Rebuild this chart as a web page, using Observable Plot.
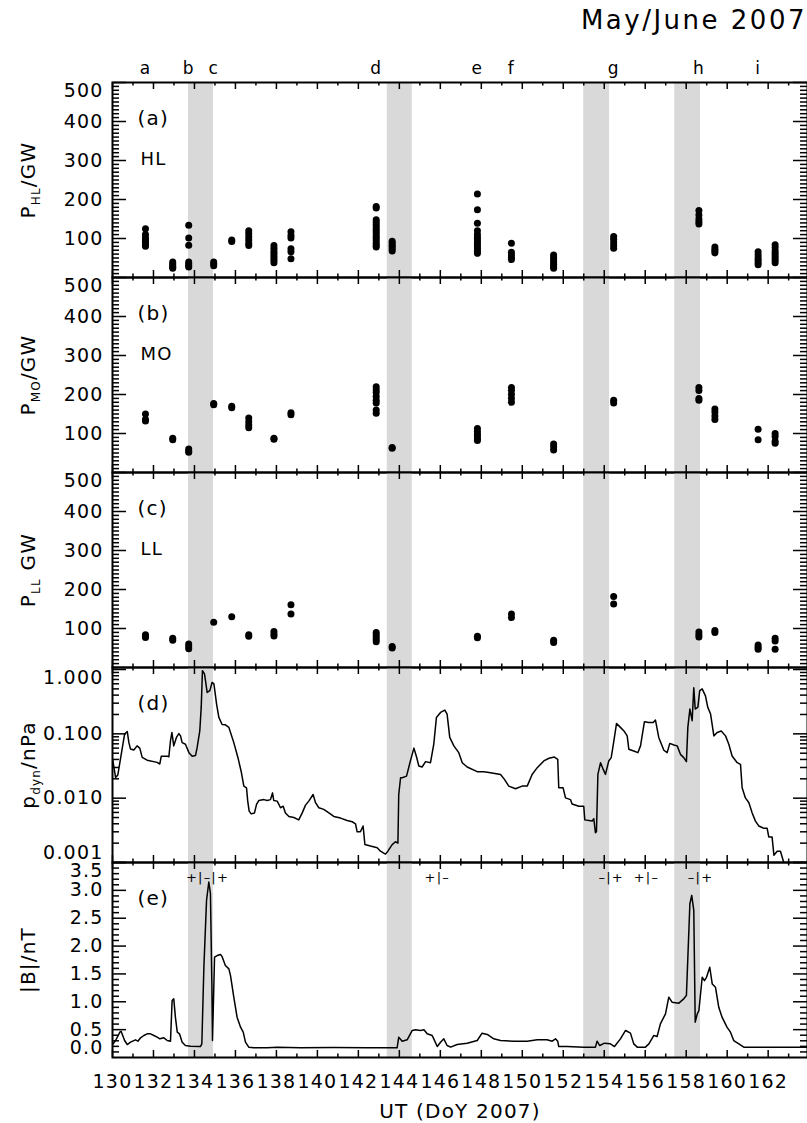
<!DOCTYPE html>
<html><head><meta charset="utf-8">
<script src="https://cdn.jsdelivr.net/npm/d3@7"></script>
<script src="https://cdn.jsdelivr.net/npm/@observablehq/plot@0.6"></script>
<style>
body{margin:0;background:#fff;}
#wrap{position:relative;width:807px;height:1123px;overflow:hidden;font-family:"DejaVu Sans",sans-serif;background:#fff;}
#wrap svg{position:absolute;left:0;}
#title{position:absolute;right:0;top:7px;font-size:26px;line-height:26px;letter-spacing:2.5px;white-space:nowrap;color:#000;}
</style></head><body>
<div id="wrap"><div id="title">May/June 2007</div></div>
<script>
// ---------------- data ----------------
const obsDays = [131.61,132.94,133.72,134.94,135.82,136.65,137.88,138.71,142.87,143.65,147.81,149.47,151.53,154.46,158.62,159.40,161.51,162.34];
const hlPower = [
 [125,110,102,97,93,88,84,80],[40,35,30,27,24],[134,101,83,40,35,30,27],[40,35,30],[96,92],
 [120,112,104,96,88,82],[82,75,68,62,56,50,44,38],[117,108,101,74,66,48],
 [182,178,148,142,136,130,124,118,112,106,100,94,88,82,78],[93,88,83,78,73,68],
 [214,174,139,120,110,103,97,91,85,79,73,67,62],[88,65,58,52,46],[58,52,46,40,34,28,24],
 [105,98,90,82,75],[172,160,150,143,137],[78,72,68,63],[66,58,50,44,38,33],[84,76,68,62,56,50,44,38]
];
const moPower = [
 [150,136,132],[88,84],[60,55,52],[177,174],[170,166],[140,130,122,115],[88,85],[153,148],
 [220,212,205,195,185,178,160,152],[64,62],[113,105,98,92,86,82],[218,210,200,190,180],
 [73,66,58],[185,178],[218,210,190,185],[163,155,145,136],[111,84],[100,92,80,75]
];
const llPower = [
 [84,80,77],[75,70],[60,54,48],[116],[130],[84,80],[92,86,81],[161,137],[90,84,78,72,66],[54,50],
 [80,76],[137,128],[70,64],[182,163],[91,84,78],[95,90],[58,52,47],[75,68,47]
];
const pdyn = [
 [130.02,0.038],[130.15,0.021],[130.26,0.023],[130.59,0.099],[130.72,0.109],[130.80,0.073],[130.88,0.058],
 [131.04,0.056],[131.20,0.065],[131.33,0.060],[131.45,0.043],[131.69,0.039],[132.18,0.036],[132.31,0.034],
 [132.38,0.045],[132.67,0.045],[132.75,0.044],[132.83,0.078],[132.90,0.105],[132.99,0.065],[133.12,0.088],
 [133.24,0.101],[133.32,0.093],[133.40,0.073],[133.56,0.069],[133.73,0.051],[133.89,0.045],[134.05,0.046],
 [134.13,0.061],[134.26,0.111],[134.33,0.26],[134.39,0.96],[134.49,0.855],[134.62,0.44],[134.75,0.47],
 [134.86,0.63],[134.95,0.60],[135.08,0.29],[135.19,0.18],[135.35,0.14],[135.51,0.138],[135.68,0.126],
 [135.76,0.105],[135.92,0.073],[136.12,0.043],[136.28,0.026],[136.41,0.0154],[136.54,0.0145],[136.60,0.009],
 [136.67,0.0063],[136.77,0.0057],[136.93,0.0059],[137.03,0.008],[137.14,0.0092],[137.39,0.0095],[137.55,0.0092],
 [137.71,0.0095],[137.81,0.0121],[137.87,0.0092],[138.04,0.009],[138.20,0.0071],[138.33,0.0075],[138.44,0.0059],
 [138.61,0.0052],[138.85,0.005],[139.09,0.0046],[139.26,0.0059],[139.42,0.0078],[139.58,0.009],[139.79,0.0114],
 [139.91,0.0085],[140.07,0.0071],[140.31,0.0067],[140.56,0.0059],[140.80,0.0052],[141.13,0.0049],[141.45,0.0045],
 [141.70,0.0043],[141.86,0.004],[141.94,0.003],[142.10,0.003],[142.23,0.0037],[142.32,0.0019],[142.59,0.0018],
 [142.92,0.0017],[143.08,0.0015],[143.32,0.00135],[143.44,0.0015],[143.65,0.0019],[143.81,0.0021],[143.93,0.002],
 [143.97,0.0114],[144.06,0.0208],[144.14,0.0208],[144.35,0.022],[144.54,0.038],[144.71,0.060],[144.84,0.0436],
 [144.95,0.0316],[145.11,0.0305],[145.28,0.037],[145.52,0.0356],[145.68,0.069],[145.81,0.18],[146.01,0.215],
 [146.22,0.234],[146.33,0.203],[146.46,0.088],[146.66,0.065],[146.90,0.051],[147.07,0.0356],[147.31,0.0305],
 [147.80,0.0258],[148.12,0.0258],[148.45,0.0249],[148.94,0.0234],[149.13,0.0196],[149.34,0.0154],[149.67,0.014],
 [149.99,0.0154],[150.24,0.0154],[150.48,0.0234],[150.73,0.0298],[151.05,0.0379],[151.30,0.0417],[151.57,0.0436],
 [151.73,0.0402],[151.78,0.0145],[151.99,0.0145],[152.11,0.0101],[152.35,0.0095],[152.43,0.0081],[152.76,0.0075],
 [153.00,0.0075],[153.05,0.0046],[153.41,0.0044],[153.49,0.0048],[153.57,0.0029],[153.62,0.003],[153.69,0.0234],
 [153.82,0.0356],[153.95,0.028],[154.06,0.0234],[154.22,0.0379],[154.34,0.0427],[154.47,0.078],[154.60,0.145],
 [154.79,0.126],[154.96,0.111],[155.12,0.093],[155.20,0.0575],[155.44,0.054],[155.64,0.051],[155.77,0.065],
 [155.96,0.154],[156.18,0.15],[156.39,0.15],[156.50,0.164],[156.66,0.088],[156.91,0.0556],[157.07,0.051],
 [157.20,0.071],[157.40,0.067],[157.56,0.065],[157.72,0.048],[157.88,0.0427],[158.01,0.037],[158.08,0.126],
 [158.18,0.243],[158.29,0.16],[158.37,0.52],[158.44,0.243],[158.57,0.26],[158.66,0.47],[158.78,0.50],
 [158.94,0.39],[159.05,0.26],[159.19,0.203],[159.35,0.093],[159.51,0.105],[159.71,0.111],[159.92,0.093],
 [160.08,0.069],[160.24,0.0453],[160.49,0.0356],[160.65,0.0336],[160.73,0.0145],[160.89,0.0101],[161.06,0.0085],
 [161.22,0.0059],[161.38,0.0044],[161.54,0.0037],[161.79,0.0034],[161.95,0.0034],[162.03,0.0025],[162.19,0.0025],
 [162.28,0.0013],[162.44,0.0015],[162.60,0.0015],[162.77,0.00098],[162.90,0.0008]
];
const bField = [
 [130.03,0.245],[130.15,0.305],[130.36,0.455],[130.42,0.47],[130.59,0.305],[130.72,0.233],[130.88,0.275],
 [131.12,0.317],[131.24,0.293],[131.37,0.353],[131.53,0.395],[131.69,0.425],[131.85,0.425],[132.02,0.395],
 [132.18,0.365],[132.31,0.335],[132.51,0.353],[132.67,0.305],[132.83,0.293],[132.91,1.023],[132.99,1.053],
 [133.07,0.724],[133.16,0.455],[133.27,0.425],[133.40,0.275],[133.56,0.215],[133.81,0.203],[134.29,0.197],
 [134.36,0.245],[134.46,1.62],[134.59,2.82],[134.70,3.15],[134.78,2.94],[134.85,1.32],[134.88,0.305],
 [134.98,1.80],[135.11,1.83],[135.27,1.85],[135.35,1.81],[135.51,1.65],[135.68,1.59],[135.76,1.47],
 [135.92,1.083],[136.08,0.724],[136.25,0.545],[136.38,0.455],[136.49,0.275],[136.65,0.186],[136.90,0.174],
 [137.55,0.174],[138.04,0.186],[139.18,0.174],[140.80,0.18],[142.43,0.174],[143.89,0.174],[143.97,0.365],
 [144.14,0.293],[144.38,0.317],[144.63,0.485],[144.79,0.497],[145.03,0.485],[145.20,0.497],[145.36,0.425],
 [145.60,0.395],[145.68,0.335],[145.85,0.197],[146.01,0.275],[146.17,0.335],[146.33,0.215],[146.50,0.186],
 [146.82,0.233],[147.31,0.257],[147.80,0.305],[148.04,0.437],[148.29,0.413],[148.61,0.335],[148.94,0.305],
 [149.59,0.293],[150.24,0.293],[150.73,0.317],[151.21,0.317],[151.46,0.293],[151.62,0.335],[151.73,0.293],
 [151.78,0.197],[152.19,0.197],[153.00,0.186],[153.57,0.186],[153.65,0.293],[153.78,0.215],[154.01,0.257],
 [154.30,0.245],[154.50,0.197],[154.79,0.335],[155.04,0.485],[155.28,0.437],[155.44,0.245],[155.61,0.186],
 [156.01,0.186],[156.18,0.245],[156.42,0.395],[156.58,0.377],[156.74,0.604],[156.99,0.784],[157.15,1.083],
 [157.31,0.993],[157.64,0.975],[157.88,1.053],[158.01,1.113],[158.18,2.76],[158.27,2.91],[158.37,2.64],
 [158.44,0.634],[158.54,0.784],[158.62,0.844],[158.78,1.44],[158.89,1.38],[158.99,1.44],[159.15,1.62],
 [159.27,1.32],[159.43,1.26],[159.59,0.90],[159.75,0.724],[159.99,0.545],[160.16,0.455],[160.32,0.305],
 [160.57,0.245],[160.81,0.186],[161.95,0.186],[163.92,0.186]
];
const bandStart = [133.71,143.41,153.00,157.44];
const bandEnd   = [134.93,144.63,154.26,158.70];
const letterDays  = [131.61,133.72,134.94,142.87,147.81,149.47,154.46,158.62,161.51];
const letterNames = ["a","b","c","d","e","f","g","h","i"];
const sectorDays  = [134.635,145.85,154.34,156.06,158.70];
const sectorText  = ["+|–|+","+|–","–|+","+|–","–|+"];
const xMajor = [130,132,134,136,138,140,142,144,146,148,150,152,154,156,158,160,162];
const xMinor = [131,133,135,137,139,141,143,145,147,149,151,153,155,157,159,161,163];
const powerLabels = [100,200,300,400];
const powerTop = 500;
const pdynLabels = [0.01,0.1];
const pdynTop = 1.0, pdynBottom = 0.001;
const bLabels = [0.5,1.0,1.5,2.0,2.5,3.0];
const bTop = 3.5, bBottom = 0.0;

// ---------------- layout ----------------
const W = 807, ML = 112, MR = 0, FH = 195, FW = W - ML - MR;
const X_DOMAIN = [130, 163.92];
const wrap = document.getElementById("wrap");
const bands = bandStart.map((s,i)=>({s, e: bandEnd[i]}));

function rows(values){ return obsDays.flatMap((d,i)=>values[i].map(v=>({day:d, v}))); }
function pairs(list){ return list.map(([day,v])=>({day, v})); }

const linMinor = d3.range(10, 500, 10).filter(v => v % 100 !== 0);
const linMajor = [100,200,300,400,500];
const logMajor = [0.001,0.01,0.1,1];
const logMinor = [0.001,0.01,0.1].flatMap(d => d3.range(2,10).map(k => k*d));
const bMajor = [0.5,1,1.5,2,2.5,3,3.5];
const bMinor = d3.range(1,35).filter(k => k % 5 !== 0).map(k => k/10);

function frameMarks(yMajor, yMinor){
  const s = {stroke:"black", strokeWidth:1.5};
  return [
    Plot.tickX(xMajor, {x:d=>d, insetTop: FH-7, ...s}),
    Plot.tickX(xMajor, {x:d=>d, insetBottom: FH-7, ...s}),
    Plot.tickX(xMinor, {x:d=>d, insetTop: FH-3.5, ...s}),
    Plot.tickX(xMinor, {x:d=>d, insetBottom: FH-3.5, ...s}),
    Plot.tickY(yMajor, {y:d=>d, insetRight: FW-14, ...s}),
    Plot.tickY(yMajor, {y:d=>d, insetLeft: FW-14, ...s}),
    Plot.tickY(yMinor, {y:d=>d, insetRight: FW-7, ...s}),
    Plot.tickY(yMinor, {y:d=>d, insetLeft: FW-7, ...s}),
    Plot.frame({stroke:"black", strokeWidth:2})
  ];
}
function labelMarks(mid, top, bottom, fmt){
  const o = {frameAnchor:"left", textAnchor:"end", lineAnchor:"middle", dx:-9, fontSize:19, fill:"black", text: d=>fmt(d)};
  const m = [Plot.text(mid, {y:d=>d, ...o})];
  if (top != null) m.push(Plot.text([top], {y:d=>d, ...o, dy:8}));
  if (bottom != null) m.push(Plot.text([bottom], {y:d=>d, ...o, dy:-10}));
  return m;
}
function titleMark(t){
  return Plot.text([t], {frameAnchor:"left", dx:-84, rotate:-90, lineAnchor:"middle", textAnchor:"middle", fontSize:20, fill:"black", text:d=>d});
}
function tagMarks(tag, region){
  const m = [Plot.text([tag], {frameAnchor:"top-left", dx:25, dy:36, textAnchor:"start", lineAnchor:"middle", fontSize:20, fill:"black", text:d=>d})];
  if (region) m.push(Plot.text([region], {frameAnchor:"top-left", dx:28, dy:77, textAnchor:"start", lineAnchor:"middle", fontSize:18, fill:"black", text:d=>d}));
  return m;
}
function bandMark(){ return Plot.rect(bands, {x1:"s", x2:"e", fill:"#d9d9d9"}); }

function subscript(svg, main, sub, rest){
  const full = main + sub + rest;
  const ns = "http://www.w3.org/2000/svg";
  svg.querySelectorAll("text").forEach(t => {
    if (t.textContent === full) {
      t.textContent = "";
      const a = document.createElementNS(ns,"tspan"); a.textContent = main;
      const b = document.createElementNS(ns,"tspan"); b.textContent = sub; b.setAttribute("font-size","12"); b.setAttribute("dy","5");
      const c = document.createElementNS(ns,"tspan"); c.textContent = rest; c.setAttribute("dy","-5");
      t.append(a,b,c);
    }
  });
}

function panel(top, mt, mb, y, marks){
  const svg = Plot.plot({
    width: W, height: mt + FH + mb, marginTop: mt, marginBottom: mb, marginLeft: ML, marginRight: MR,
    x: {domain: X_DOMAIN, axis: null},
    y: {...y, axis: null},
    style: {fontFamily: "DejaVu Sans, sans-serif", fontSize: "19px", letterSpacing: "1.2px", color: "black", background: "transparent", overflow: "visible"},
    marks
  });
  svg.style.position = "absolute"; svg.style.top = top + "px"; svg.style.left = "0px";
  wrap.append(svg);
  return svg;
}
const f0 = d3.format("d"), f3 = d3.format(".3f"), f1 = d3.format(".1f");
const dotOpts = {x:"day", y:"v", r:3.5, fill:"black"};

// (a)
const sa = panel(0, 82, 0, {domain:[0,500]}, [
  bandMark(),
  Plot.dot(rows(hlPower), dotOpts),
  ...frameMarks(linMajor, linMinor),
  ...labelMarks(powerLabels, powerTop, null, f0),
  titleMark("PHL/GW"),
  ...tagMarks("(a)", "HL"),
  Plot.text(letterDays, {x:d=>d, text:(d,i)=>letterNames[i], frameAnchor:"top", dy:-14, lineAnchor:"middle", fontSize:17, fill:"black"})
]);
subscript(sa, "P", "HL", "/GW");
// (b)
const sb = panel(277, 0, 0, {domain:[0,500]}, [
  bandMark(),
  Plot.dot(rows(moPower), dotOpts),
  ...frameMarks(linMajor, linMinor),
  ...labelMarks(powerLabels, powerTop, null, f0),
  titleMark("PMO/GW"),
  ...tagMarks("(b)", "MO")
]);
subscript(sb, "P", "MO", "/GW");
// (c)
const sc = panel(472, 0, 0, {domain:[0,500]}, [
  bandMark(),
  Plot.dot(rows(llPower), dotOpts),
  ...frameMarks(linMajor, linMinor),
  ...labelMarks(powerLabels, powerTop, null, f0),
  titleMark("PLL GW"),
  ...tagMarks("(c)", "LL")
]);
subscript(sc, "P", "LL", " GW");
// (d)
const sd = panel(667, 0, 0, {type:"log", domain:[0.001, 1.075]}, [
  bandMark(),
  Plot.line(pairs(pdyn), {x:"day", y:"v", stroke:"black", strokeWidth:1.5, clip:true}),
  ...frameMarks(logMajor, logMinor),
  ...labelMarks(pdynLabels, pdynTop, pdynBottom, f3),
  titleMark("pdyn/nPa"),
  ...tagMarks("(d)", null)
]);
subscript(sd, "p", "dyn", "/nPa");
// (e)
const se = panel(862, 0, 66, {domain:[0,3.5]}, [
  bandMark(),
  Plot.line(pairs(bField), {x:"day", y:"v", stroke:"black", strokeWidth:1.5, clip:true}),
  ...frameMarks(bMajor, bMinor),
  ...labelMarks(bLabels, bTop, bBottom, f1),
  titleMark("|B|/nT"),
  ...tagMarks("(e)", null),
  Plot.text(sectorDays, {x:d=>d, text:(d,i)=>sectorText[i], frameAnchor:"top", dy:15, lineAnchor:"middle", fontSize:13, fill:"black"}),
  Plot.text(xMajor, {x:d=>d, text:d=>f0(d), frameAnchor:"bottom", dy:24, lineAnchor:"middle", fontSize:19, fill:"black"}),
  Plot.text(["UT (DoY 2007)"], {frameAnchor:"bottom", dy:54, lineAnchor:"middle", fontSize:20, fill:"black", text:d=>d})
]);
</script>
</body></html>
